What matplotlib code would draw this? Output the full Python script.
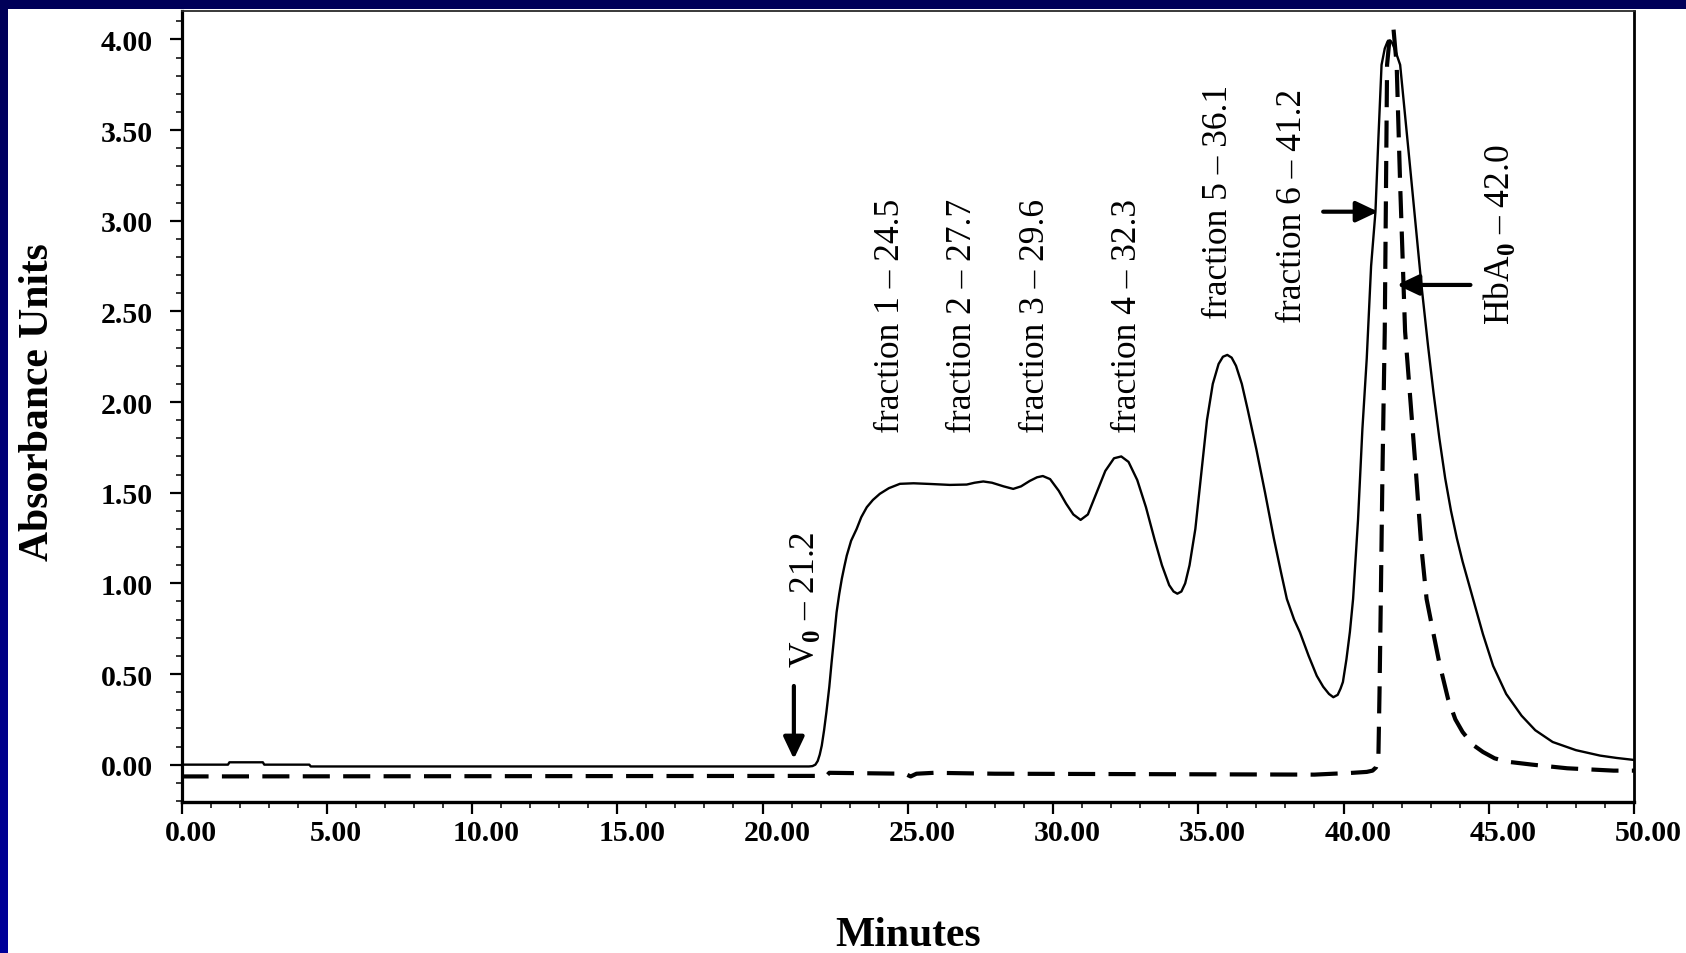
import numpy as np
import matplotlib
matplotlib.use("Agg")
import matplotlib.pyplot as plt
import matplotlib.transforms as mtransforms
from matplotlib.patches import Rectangle
from matplotlib.colors import LinearSegmentedColormap

plt.rcParams['font.family'] = ['Liberation Serif', 'DejaVu Serif']
plt.rcParams['mathtext.fontset'] = 'custom'
plt.rcParams['mathtext.rm'] = 'Liberation Serif'
plt.rcParams['mathtext.bf'] = 'Liberation Serif:bold'

# solid trace (absorbance)
solid_min = [0.0, 1.6, 1.65, 2.8, 2.85, 4.4, 4.45, 21.6, 21.72, 21.82, 21.9, 21.97, 22.04,
             22.12, 22.2, 22.3, 22.38, 22.47, 22.55, 22.64, 22.73, 22.82, 22.9, 23.05,
             23.24, 23.4, 23.59, 23.8, 24.04, 24.35, 24.73, 25.2, 25.8, 26.45, 27.03,
             27.3, 27.6, 27.9, 28.3, 28.63, 28.9, 29.2, 29.45, 29.65, 29.9, 30.2, 30.45,
             30.7, 30.95, 31.2, 31.5, 31.8, 32.1, 32.35, 32.6, 32.9, 33.2, 33.5, 33.75,
             34.0, 34.15, 34.28, 34.42, 34.55, 34.7, 34.9, 35.1, 35.3, 35.5, 35.7, 35.85,
             36.0, 36.15, 36.3, 36.5, 36.7, 37.0, 37.3, 37.6, 37.85, 38.05, 38.3, 38.5,
             38.8, 39.08, 39.3, 39.5, 39.65, 39.8, 39.9, 39.98, 40.1, 40.22, 40.33, 40.5,
             40.65, 40.8, 40.95, 41.1, 41.2, 41.31, 41.42, 41.52, 41.6, 41.68, 41.78,
             41.95, 42.29, 42.68, 42.91, 43.1, 43.3, 43.5, 43.7, 43.9, 44.1, 44.46, 44.8,
             45.15, 45.6, 46.13, 46.6, 47.2, 48.0, 48.83, 49.4, 50.0]
solid_au = [0.0, 0.0, 0.013, 0.013, 0.0, 0.0, -0.01, -0.01, -0.008, 0.0, 0.02, 0.055, 0.105,
            0.19, 0.29, 0.43, 0.567, 0.71, 0.84, 0.94, 1.025, 1.095, 1.153, 1.235,
            1.30, 1.365, 1.42, 1.46, 1.494, 1.525, 1.549, 1.552, 1.548, 1.543, 1.545,
            1.555, 1.562, 1.555, 1.535, 1.521, 1.535, 1.565, 1.585, 1.592, 1.575, 1.51, 1.44,
            1.38, 1.35, 1.38, 1.50, 1.62, 1.69, 1.70, 1.67, 1.57, 1.42, 1.24, 1.10,
            0.99, 0.955, 0.943, 0.955, 1.00, 1.10, 1.30, 1.60, 1.90, 2.10, 2.21, 2.25,
            2.26, 2.245, 2.20, 2.10, 1.96, 1.74, 1.50, 1.25, 1.06, 0.914, 0.80, 0.73,
            0.60, 0.49, 0.43, 0.39, 0.372, 0.385, 0.42, 0.456, 0.58, 0.732, 0.914, 1.35,
            1.85, 2.24, 2.75, 3.05, 3.45, 3.86, 3.95, 3.99, 3.995, 3.98, 3.94,
            3.86, 3.30, 2.65, 2.31, 2.05, 1.80, 1.58, 1.40, 1.25, 1.12, 0.914, 0.72,
            0.545, 0.39, 0.27, 0.19, 0.125, 0.08, 0.05, 0.037, 0.026]

# dashed trace
dash_min = [0.0, 22.2, 22.3, 24.9, 25.1, 25.3, 25.9, 28.0, 39.0, 39.65, 40.22, 40.8,
            41.0, 41.12, 41.2, 41.24, 41.28, 41.34, 41.42, 41.5, 41.6, 41.72, 41.83,
            41.95, 42.12, 42.5, 42.68, 42.86, 43.05, 43.3, 43.6, 43.85, 44.1, 44.45,
            44.8, 45.2, 45.6, 46.5, 47.7, 49.3, 50.0]
dash_au = [-0.065, -0.062, -0.045, -0.05, -0.065, -0.05, -0.045, -0.05, -0.055, -0.05,
           -0.046, -0.04, -0.033, -0.015, 0.03, 0.4, 0.86, 1.6, 2.39, 3.86, 4.03, 4.06,
           3.86, 3.2, 2.39, 1.6, 1.2, 0.914, 0.76, 0.56, 0.362, 0.25, 0.18, 0.11,
           0.07, 0.035, 0.017, 0.0, -0.02, -0.033, -0.033]

x_ticks = [0, 5, 10, 15, 20, 25, 30, 35, 40, 45, 50]
x_tick_labels = ['0.00', '5.00', '10.00', '15.00', '20.00', '25.00', '30.00',
                 '35.00', '40.00', '45.00', '50.00']
y_ticks = [0.0, 0.5, 1.0, 1.5, 2.0, 2.5, 3.0, 3.5, 4.0]
y_tick_labels = ['0.00', '0.50', '1.00', '1.50', '2.00', '2.50', '3.00', '3.50', '4.00']

DASH = '\u2013'
peak_labels = ['fraction 1 ' + DASH + ' 24.5', 'fraction 2 ' + DASH + ' 27.7',
               'fraction 3 ' + DASH + ' 29.6', 'fraction 4 ' + DASH + ' 32.3',
               'fraction 5 ' + DASH + ' 36.1', 'fraction 6 ' + DASH + ' 41.2',
               r'HbA$_\mathbf{0}$ ' + DASH + ' 42.0', r'V$_\mathbf{0}$ ' + DASH + ' 21.2']
label_x = [24.41, 26.9, 29.41, 32.56, 35.71, 38.23, 45.35, 21.46]
label_y = [1.835, 1.835, 1.835, 1.835, 2.465, 2.443, 2.43, 0.539]

W, H = 1686, 954
fig = plt.figure(figsize=(W / 100, H / 100), dpi=100)

# navy frame (top band + left strip), white page
bg = fig.add_axes([0, 0, 1, 1], zorder=-5)
navy = LinearSegmentedColormap.from_list('navy', ['#000058', '#00009a'])
bg.imshow(np.linspace(0, 1, 256).reshape(-1, 1), aspect='auto', cmap=navy,
          extent=[0, 1, 0, 1], origin='upper')
bg.add_patch(Rectangle((8 / W, 0), 1, 1 - 10 / H, facecolor='white',
                       edgecolor='none', transform=bg.transAxes))
bg.set_xlim(0, 1); bg.set_ylim(0, 1)
bg.axis('off')

ax = fig.add_axes([181.5 / W, 1 - 803 / H, (1634 - 181.5) / W, (803 - 12) / H])
ax.patch.set_alpha(0)

ax.plot(solid_min, solid_au, color='black', lw=1.7, solid_joinstyle='round')
ax.plot(dash_min, dash_au, color='black', lw=3.0, linestyle=(0, (6.5, 3.2)),
        dash_capstyle='butt')

ax.set_xlim(0, 50)
ax.set_ylim(-0.206, 4.157)

ax.set_xticks(x_ticks)
ax.set_xticklabels(x_tick_labels, fontsize=21.5, fontweight='bold')
ax.set_xticks(np.arange(0, 51, 1), minor=True)
ax.set_yticks(y_ticks)
ax.set_yticklabels(y_tick_labels, fontsize=21.5, fontweight='bold')
ax.set_yticks(np.arange(-0.2, 4.15, 0.1), minor=True)

ax.tick_params(axis='both', which='major', direction='out', length=8.5, width=1.6,
               color='black')
ax.tick_params(axis='both', which='minor', direction='out', length=4.5, width=1.1,
               color='black')
ax.tick_params(axis='x', which='major', pad=4)
ax.tick_params(axis='y', which='major', pad=12)

# x tick labels sit a bit right of their ticks in the original
for lbl in ax.get_xticklabels():
    dx = 9.5 if len(lbl.get_text()) <= 4 else 14.5
    off = mtransforms.ScaledTranslation(dx / 100, 0, fig.dpi_scale_trans)
    lbl.set_transform(lbl.get_transform() + off)

for side, lw in [('left', 2.3), ('bottom', 2.4), ('right', 2.0), ('top', 1.3)]:
    ax.spines[side].set_linewidth(lw)
ax.spines['top'].set_color('#2a2a2a')

ax.set_xlabel('Minutes', fontsize=30, fontweight='bold')
ax.xaxis.label.set_va('center')
ax.xaxis.set_label_coords(0.5, -(936 - 803) / 791)
ax.set_ylabel('Absorbance Units', fontsize=30, fontweight='bold')
ax.yaxis.label.set_va('center')
ax.yaxis.set_label_coords(-0.0985, 0.507)

for txt, lx, ly in zip(peak_labels, label_x, label_y):
    ax.text(lx, ly, txt, rotation=90, ha='center', va='bottom', fontsize=25.5)

arrow_style = dict(arrowstyle='-|>,head_length=0.95,head_width=0.45', lw=3,
                   color='black', mutation_scale=14, shrinkA=0, shrinkB=0)
ax.annotate('', xy=(21.08, 0.031), xytext=(21.08, 0.434), arrowprops=arrow_style)
ax.annotate('', xy=(41.19, 3.05), xytext=(39.30, 3.05), arrowprops=arrow_style)
ax.annotate('', xy=(41.84, 2.646), xytext=(44.37, 2.646), arrowprops=arrow_style)

fig.savefig('out.png', dpi=100)
